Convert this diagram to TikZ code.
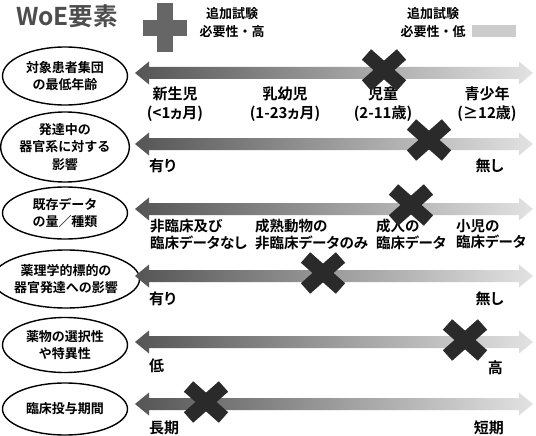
\documentclass[tikz,border=0pt]{standalone}
\usepackage{fontspec}
\setmainfont{Noto Sans CJK JP}[BoldFont={Noto Sans CJK JP Bold}]
\newfontfamily\lblfont{Noto Sans CJK JP Bold}[RawFeature=+palt]
\usetikzlibrary{shapes.geometric}
\definecolor{darkg}{HTML}{555555}
\definecolor{lightg}{HTML}{E2E2E2}
\definecolor{plusg}{HTML}{666666}
\definecolor{barg}{HTML}{CCCCCC}
\definecolor{xg}{HTML}{2A2A2A}
\definecolor{titleg}{HTML}{4D4D4D}
\tikzset{
  cat/.style={draw, ellipse, line width=1.4pt, minimum width=125pt, inner sep=0pt, align=center,
    font=\bfseries\fontsize{13}{17.5}\selectfont},
  lblc/.style={anchor=center, align=center, inner sep=0pt, font=\lblfont\fontsize{15}{19}\selectfont},
  lbll/.style={anchor=north west, align=left, inner sep=0pt, font=\lblfont\fontsize{14.5}{16.5}\selectfont},
  endl/.style={anchor=west, inner sep=0pt, font=\lblfont\fontsize{15}{19}\selectfont},
  endr/.style={anchor=east, inner sep=0pt, font=\lblfont\fontsize{15}{19}\selectfont},
  hdr/.style={align=center, inner sep=0pt, font=\bfseries\fontsize{13}{18}\selectfont},
  xarm/.style={line width=14pt, color=xg, line cap=butt},
}
\newcommand{\scalearrow}[2]{%
  \coordinate (#1) at (135,#2);
  \shade[left color=darkg, right color=lightg]
    (135,#2) -- (149,#2-11.5) -- (149,#2-6) -- (519,#2-6) -- (519,#2-11.5) -- (533,#2)
    -- (519,#2+11.5) -- (519,#2+6) -- (149,#2+6) -- (149,#2+11.5) -- cycle;
}
\newcommand{\xmark}[3]{%
  \coordinate (#1) at (#2,#3);
  \draw[xarm] ([shift={(-17.5,-15.5)}]#1) -- ([shift={(17.5,15.5)}]#1);
  \draw[xarm] ([shift={(-17.5,15.5)}]#1) -- ([shift={(17.5,-15.5)}]#1);
}
\begin{document}
\begin{tikzpicture}[x=1pt,y=-1pt]
\useasboundingbox[fill=white] (0,0) rectangle (536,436);

% header
\node[font=\bfseries\fontsize{24.5}{26}\selectfont, text=titleg, inner sep=0pt] (title) at (67,16) {WoE要素};
\fill[plusg] (143,20) rectangle (187,36);
\fill[plusg] (157,3) rectangle (173,52);
\coordinate (plus) at (165,27.5);
\node[hdr] (hi) at (232,23) {追加試験\\必要性・高};
\node[hdr] (lo) at (433,23) {追加試験\\必要性・低};
\fill[barg] (472,25) rectangle (516,37);
\coordinate (bar) at (494,31);

% ellipses
\node[cat, minimum height=58pt] (e1) at (65,76) {対象患者集団\\の最低年齢};
\node[cat, minimum height=70pt] (e2) at (65,147) {発達中の\\器官系に対する\\影響};
\node[cat, minimum height=52pt] (e3) at (65,213) {既存データ\\の量／種類};
\node[cat, minimum height=58pt, minimum width=128pt] (e4) at (66,279) {薬理学的標的の\\器官発達への影響};
\node[cat, minimum height=55pt] (e5) at (65,345) {薬物の選択性\\や特異性};
\node[cat, minimum height=52pt] (e6) at (65,409) {臨床投与期間};

% arrows
\scalearrow{a1}{73}
\scalearrow{a2}{144}
\scalearrow{a3}{209}
\scalearrow{a4}{276}
\scalearrow{a5}{342}
\scalearrow{a6}{404}

% row 1 labels
\node[lblc] (l11) at (175,104.5) {新生児\\(<1ヵ月)};
\node[lblc] (l12) at (285,104.5) {乳幼児\\(1-23ヵ月)};
\node[lblc] (l13) at (383,104.5) {児童\\(2-11歳)};
\node[lblc] (l14) at (487,104.5) {青少年\\(≥12歳)};

% row 2
\node[endl] (l21) at (149,166) {有り};
\node[endr] (l22) at (504,166) {無し};

% row 3
\node[lbll] (l31) at (150,219) {非臨床及び\\臨床データなし};
\node[lbll] (l32) at (255,219) {成熟動物の\\非臨床データのみ};
\node[lbll] (l33) at (376,219) {成人の\\臨床データ};
\node[lbll] (l34) at (456,219) {小児の\\臨床データ};

% row 4
\node[endl] (l41) at (149,299) {有り};
\node[endr] (l42) at (504,299) {無し};

% row 5
\node[endl] (l51) at (149,366) {低};
\node[endr] (l52) at (503,368) {高};

% row 6
\node[endl] (l61) at (149,428) {長期};
\node[endr] (l62) at (504,428) {短期};

% crosses
\xmark{x1}{384}{70}
\xmark{x2}{429}{140}
\xmark{x3}{411}{205}
\xmark{x4}{323}{273}
\xmark{x5}{465}{340}
\xmark{x6}{206}{402}
\end{tikzpicture}
\end{document}
